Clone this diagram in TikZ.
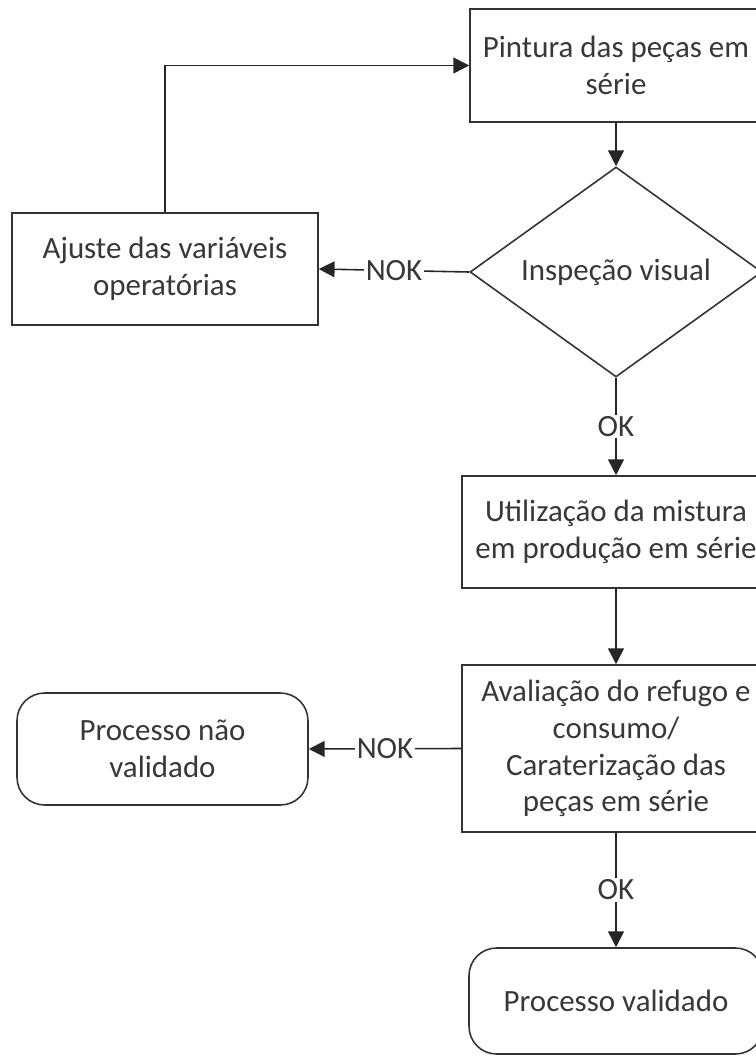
\documentclass[tikz,border=0pt]{standalone}
\usepackage{fontspec}
\setmainfont{Carlito}
\usetikzlibrary{
    arrows.meta,
    shapes.geometric
}

\begin{document}
\begin{tikzpicture}[x=0.02cm, y=-0.02cm,
    box/.style={draw=black!80, line width=0.9pt, fill=white, align=center,
        text=black!78, font=\fontsize{17.6}{21}\selectfont, inner sep=0pt},
    roundbox/.style={box, rounded corners=0.55cm},
    decision/.style={box, diamond, aspect=1.39},
    flow/.style={draw=black!85, line width=0.9pt, -{Triangle[length=9pt,width=9pt]}},
    tag/.style={fill=white, text=black!78, font=\fontsize{17.6}{21}\selectfont, inner sep=1pt}
]

% Frame
\clip (0,0) rectangle (756,1057);

% Boxes
\node[box, minimum width=5.84cm, minimum height=2.26cm] (pintura) at (616,65.5)
    {Pintura das peças em\\série};
\node[decision, minimum width=5.84cm, minimum height=4.2cm] (inspecao) at (616,272)
    {Inspeção visual};
\node[box, minimum width=6.12cm, minimum height=2.24cm] (ajuste) at (165,269)
    {Ajuste das variáveis\\operatórias};
\node[box, minimum width=6.16cm, minimum height=2.24cm] (utilizacao) at (616,532)
    {Utilização da mistura\\em produção em série};
\node[box, minimum width=6.16cm, minimum height=3.34cm] (avaliacao) at (616,748.5)
    {Avaliação do refugo e\\consumo/\\Caraterização das\\peças em série};
\node[roundbox, minimum width=5.82cm, minimum height=2.24cm] (naovalidado) at (162.5,749)
    {Processo não\\validado};
\node[roundbox, minimum width=5.88cm, minimum height=2.12cm] (validado) at (616,1001)
    {Processo validado};

% Arrows
\draw[flow] (pintura) -- (inspecao);
\draw[flow] (inspecao.west) -- node[tag] (nok1) {NOK} (ajuste.east);
\draw[flow] (ajuste.north) |- (pintura.west);
\draw[flow] (inspecao.south) -- node[tag] (ok1) {OK} (utilizacao.north);
\draw[flow] (utilizacao) -- (avaliacao);
\draw[flow] (avaliacao.west) -- node[tag] (nok2) {NOK} (naovalidado.east);
\draw[flow] (avaliacao.south) -- node[tag] (ok2) {OK} (validado.north);

\end{tikzpicture}
\end{document}
